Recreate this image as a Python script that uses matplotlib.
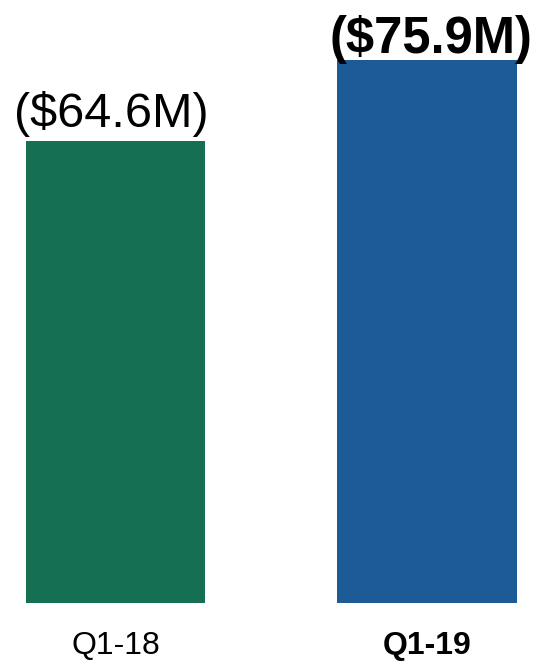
import matplotlib
matplotlib.use("Agg")
import matplotlib.pyplot as plt

periods = ["Q1-18", "Q1-19"]
values = [64.6, 75.9]
value_labels = ["($64.6M)", "($75.9M)"]
bar_colors = ["#157053", "#1D5B97"]

plt.rcParams["font.family"] = ["Liberation Sans", "DejaVu Sans"]

fig = plt.figure(figsize=(5.35, 6.62), dpi=100)
ax = fig.add_axes([0, 59 / 662, 1, 603 / 662])

x = list(range(len(periods)))
bars = ax.bar(x, values, width=0.575, color=bar_colors)

ax.set_xlim(-0.3708, 1.3467)
ax.set_ylim(0, 84.3)

# value labels above bars
label_styles = [
    dict(fontsize=35, fontweight="normal", offset=10, dx=-3),
    dict(fontsize=36.5, fontweight="bold", offset=5, dx=3),
]
for xi, v, lab, st in zip(x, values, value_labels, label_styles):
    ax.annotate(lab, (xi, v), xytext=(st["dx"], st["offset"]),
                textcoords="offset points", ha="center", va="baseline",
                fontsize=st["fontsize"], fontweight=st["fontweight"],
                color="black")

ax.set_xticks(x)
ax.set_xticklabels(periods, fontsize=23)
ax.get_xticklabels()[1].set_fontweight("bold")
ax.tick_params(axis="x", length=0, pad=20)
ax.set_yticks([])
for s in ax.spines.values():
    s.set_visible(False)

fig.savefig("out.png", dpi=100)
